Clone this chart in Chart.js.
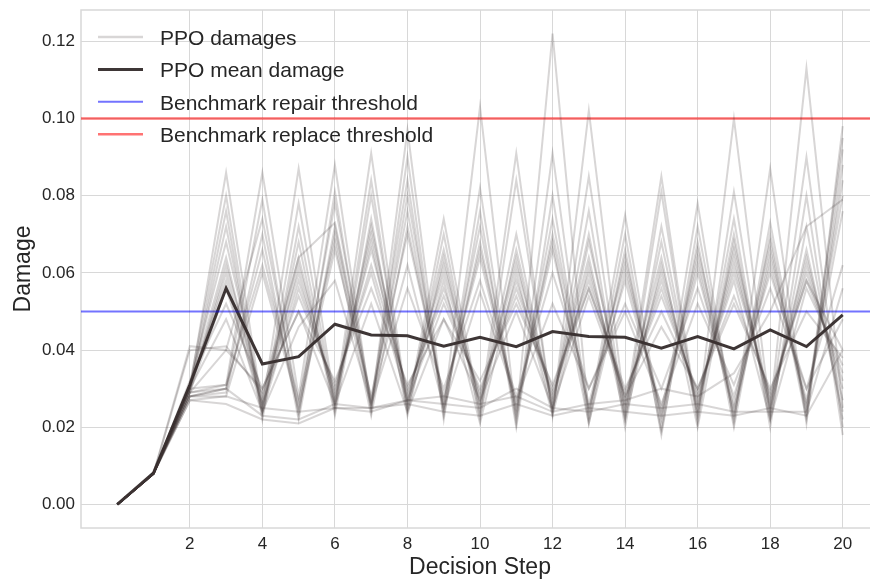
<!DOCTYPE html>
<html>
<head>
<meta charset="utf-8">
<script src="https://cdn.jsdelivr.net/npm/chart.js@4.4.1/dist/chart.umd.min.js"></script>
<style>
  html, body { margin: 0; padding: 0; background: #fff; overflow: hidden; }
  #wrap { position: relative; width: 885px; height: 581px; }
</style>
</head>
<body>
<div id="wrap"><canvas id="damageChart"></canvas></div>
<script>
// decision steps and axis ticks
const steps = [0, 1, 2, 3, 4, 5, 6, 7, 8, 9, 10, 11, 12, 13, 14, 15, 16, 17, 18, 19, 20];
const xTicks = [2, 4, 6, 8, 10, 12, 14, 16, 18, 20];
const yTicks = [0, 0.02, 0.04, 0.06, 0.08, 0.10, 0.12];

// thresholds
const repairThreshold = 0.05;
const replaceThreshold = 0.10;

// mean damage over runs
const meanDamage = [0, 0.0082, 0.031, 0.056, 0.0364, 0.0383, 0.0467, 0.0439, 0.0437, 0.041, 0.0433,
  0.0409, 0.0448, 0.0435, 0.0433, 0.0405, 0.0435, 0.0403, 0.0452, 0.0409, 0.0491];

// individual PPO runs
const run01 = [0, 0.008, 0.030, 0.086, 0.025, 0.087, 0.026, 0.091, 0.025, 0.074, 0.024, 0.091, 0.023, 0.102, 0.024, 0.085, 0.022, 0.100, 0.024, 0.113, 0.025];
const run02 = [0, 0.008, 0.029, 0.031, 0.086, 0.028, 0.088, 0.025, 0.097, 0.024, 0.103, 0.022, 0.122, 0.023, 0.075, 0.020, 0.078, 0.021, 0.087, 0.021, 0.098];
const run03 = [0, 0.008, 0.031, 0.080, 0.023, 0.078, 0.025, 0.084, 0.024, 0.070, 0.022, 0.084, 0.024, 0.085, 0.022, 0.081, 0.021, 0.081, 0.023, 0.090, 0.020];
const run04 = [0, 0.008, 0.028, 0.030, 0.079, 0.023, 0.081, 0.024, 0.090, 0.022, 0.082, 0.021, 0.091, 0.022, 0.070, 0.018, 0.072, 0.022, 0.073, 0.024, 0.095];
const run05 = [0, 0.008, 0.030, 0.076, 0.022, 0.072, 0.024, 0.080, 0.026, 0.066, 0.025, 0.070, 0.025, 0.076, 0.020, 0.072, 0.024, 0.074, 0.020, 0.080, 0.018];
const run06 = [0, 0.008, 0.029, 0.040, 0.074, 0.026, 0.078, 0.027, 0.084, 0.023, 0.076, 0.020, 0.080, 0.021, 0.066, 0.019, 0.068, 0.020, 0.070, 0.023, 0.092];
const run07 = [0, 0.008, 0.030, 0.072, 0.024, 0.068, 0.023, 0.074, 0.023, 0.064, 0.023, 0.066, 0.026, 0.070, 0.023, 0.068, 0.023, 0.070, 0.022, 0.072, 0.022];
const run08 = [0, 0.008, 0.028, 0.029, 0.070, 0.022, 0.072, 0.025, 0.080, 0.026, 0.072, 0.024, 0.074, 0.024, 0.064, 0.022, 0.066, 0.026, 0.068, 0.022, 0.088];
const run09 = [0, 0.008, 0.031, 0.068, 0.027, 0.064, 0.026, 0.072, 0.027, 0.062, 0.027, 0.064, 0.024, 0.068, 0.026, 0.064, 0.020, 0.068, 0.024, 0.066, 0.024];
const run10 = [0, 0.008, 0.029, 0.030, 0.066, 0.024, 0.070, 0.026, 0.076, 0.025, 0.068, 0.023, 0.070, 0.026, 0.062, 0.023, 0.064, 0.024, 0.066, 0.025, 0.084];
const run11 = [0, 0.008, 0.030, 0.064, 0.025, 0.062, 0.028, 0.070, 0.028, 0.060, 0.026, 0.062, 0.027, 0.064, 0.022, 0.062, 0.025, 0.066, 0.026, 0.064, 0.027];
const run12 = [0, 0.008, 0.030, 0.031, 0.062, 0.027, 0.068, 0.023, 0.072, 0.027, 0.066, 0.026, 0.068, 0.021, 0.060, 0.025, 0.062, 0.023, 0.064, 0.027, 0.080];
const run13 = [0, 0.008, 0.029, 0.062, 0.028, 0.060, 0.027, 0.068, 0.025, 0.058, 0.021, 0.060, 0.023, 0.062, 0.025, 0.060, 0.026, 0.064, 0.025, 0.062, 0.030];
const run14 = [0, 0.008, 0.028, 0.028, 0.060, 0.025, 0.066, 0.028, 0.070, 0.028, 0.064, 0.025, 0.066, 0.025, 0.058, 0.024, 0.060, 0.025, 0.062, 0.026, 0.076];
const run15 = [0, 0.008, 0.030, 0.060, 0.026, 0.058, 0.029, 0.066, 0.029, 0.056, 0.028, 0.058, 0.028, 0.060, 0.027, 0.058, 0.027, 0.062, 0.027, 0.060, 0.032];
const run16 = [0, 0.008, 0.031, 0.058, 0.024, 0.056, 0.030, 0.062, 0.030, 0.054, 0.029, 0.056, 0.030, 0.058, 0.028, 0.056, 0.028, 0.060, 0.028, 0.058, 0.034];
const run17 = [0, 0.008, 0.029, 0.056, 0.026, 0.054, 0.031, 0.060, 0.027, 0.052, 0.030, 0.054, 0.029, 0.056, 0.029, 0.054, 0.029, 0.058, 0.022, 0.056, 0.036];
const run18 = [0, 0.008, 0.027, 0.028, 0.025, 0.024, 0.025, 0.024, 0.027, 0.028, 0.026, 0.028, 0.024, 0.026, 0.027, 0.030, 0.028, 0.034, 0.050, 0.072, 0.079];
const run19 = [0, 0.008, 0.040, 0.041, 0.029, 0.064, 0.073, 0.027, 0.062, 0.025, 0.055, 0.027, 0.052, 0.030, 0.050, 0.026, 0.052, 0.031, 0.056, 0.030, 0.048];
const run20 = [0, 0.008, 0.041, 0.040, 0.030, 0.050, 0.026, 0.052, 0.024, 0.048, 0.027, 0.050, 0.025, 0.054, 0.028, 0.046, 0.030, 0.052, 0.030, 0.050, 0.038];
const run21 = [0, 0.008, 0.030, 0.048, 0.024, 0.046, 0.058, 0.026, 0.056, 0.030, 0.058, 0.028, 0.060, 0.030, 0.052, 0.030, 0.056, 0.028, 0.060, 0.030, 0.062];
const run22 = [0, 0.008, 0.027, 0.026, 0.022, 0.021, 0.025, 0.025, 0.026, 0.024, 0.023, 0.026, 0.023, 0.025, 0.024, 0.023, 0.024, 0.023, 0.025, 0.023, 0.040];
const run23 = [0, 0.008, 0.028, 0.030, 0.023, 0.022, 0.026, 0.025, 0.027, 0.026, 0.025, 0.030, 0.025, 0.024, 0.026, 0.025, 0.026, 0.024, 0.024, 0.024, 0.056];
const run24 = [0, 0.008, 0.032, 0.052, 0.030, 0.050, 0.032, 0.056, 0.031, 0.048, 0.032, 0.052, 0.031, 0.056, 0.030, 0.050, 0.030, 0.054, 0.029, 0.058, 0.040];

const runs = [run01, run02, run03, run04, run05, run06, run07, run08, run09, run10, run11, run12,
  run13, run14, run15, run16, run17, run18, run19, run20, run21, run22, run23, run24];

const legendLabels = ['PPO damages', 'PPO mean damage', 'Benchmark repair threshold', 'Benchmark replace threshold'];

const xMin = -1, xMax = 21;
const yMin = -0.0061, yMax = 0.1281;

const runColor = 'rgba(60, 50, 50, 0.2)';
const meanColor = '#3e3636';
const repairColor = 'rgba(0, 0, 255, 0.55)';
const replaceColor = 'rgba(255, 0, 0, 0.55)';
const gridColor = '#d8d8d8';
const textColor = '#262626';
const fontFamily = '"Liberation Sans", Arial, sans-serif';

function toPoints(values) {
    return values.map((v, i) => ({ x: steps[i], y: v }));
}

let datasets = [];
runs.forEach(r => {
    datasets.push({
        data: toPoints(r),
        borderColor: runColor,
        borderWidth: 2,
        pointRadius: 0,
        tension: 0
    });
});
datasets.push({
    data: [{ x: xMin, y: repairThreshold }, { x: xMax, y: repairThreshold }],
    borderColor: repairColor,
    borderWidth: 2,
    pointRadius: 0
});
datasets.push({
    data: [{ x: xMin, y: replaceThreshold }, { x: xMax, y: replaceThreshold }],
    borderColor: replaceColor,
    borderWidth: 2.5,
    pointRadius: 0
});
datasets.push({
    data: toPoints(meanDamage),
    borderColor: meanColor,
    borderWidth: 3,
    pointRadius: 0
});

// frame around the plot + legend in the upper left
const framePlugin = {
    id: 'frame',
    beforeDatasetsDraw(chart) {
        const { ctx, chartArea: a } = chart;
        ctx.save();
        ctx.strokeStyle = gridColor;
        ctx.lineWidth = 1.5;
        ctx.strokeRect(a.left, a.top, a.right - a.left, a.bottom - a.top);
        ctx.restore();
    }
};

const legendPlugin = {
    id: 'cornerLegend',
    afterDatasetsDraw(chart) {
        const ctx = chart.ctx;
        const swatches = [
            { color: 'rgba(60, 50, 50, 0.2)', width: 2.5 },
            { color: meanColor, width: 3 },
            { color: repairColor, width: 2 },
            { color: replaceColor, width: 2.5 }
        ];
        ctx.save();
        ctx.font = '21px ' + fontFamily;
        ctx.fillStyle = textColor;
        ctx.textBaseline = 'alphabetic';
        legendLabels.forEach((label, i) => {
            const y = 37 + i * 32.4;
            ctx.beginPath();
            ctx.strokeStyle = swatches[i].color;
            ctx.lineWidth = swatches[i].width;
            ctx.moveTo(98, y);
            ctx.lineTo(143, y);
            ctx.stroke();
            ctx.fillText(label, 160, y + 8);
        });
        ctx.restore();
    }
};

let ctx = document.getElementById('damageChart').getContext('2d');
let damageChart = new Chart(ctx, {
    type: 'line',
    data: { datasets: datasets },
    options: {
        responsive: true,
        maintainAspectRatio: false,
        animation: false,
        layout: { autoPadding: false, padding: { top: 10, right: 6, bottom: 0, left: 0 } },
        plugins: { legend: { display: false }, tooltip: { enabled: false } },
        scales: {
            x: {
                type: 'linear',
                min: xMin,
                max: xMax,
                afterBuildTicks: s => { s.ticks = xTicks.map(v => ({ value: v })); },
                afterFit: s => { s.height = 53; s.paddingLeft = 0; s.paddingRight = 0; },
                grid: { color: gridColor, drawTicks: false },
                border: { display: false },
                ticks: { padding: 6, color: textColor, font: { size: 17, family: fontFamily } },
                title: { display: true, text: 'Decision Step', color: textColor,
                    font: { size: 23, family: fontFamily }, padding: { top: 0, bottom: 0 } }
            },
            y: {
                type: 'linear',
                min: yMin,
                max: yMax,
                afterBuildTicks: s => { s.ticks = yTicks.map(v => ({ value: v })); },
                afterFit: s => { s.width = 81; s.paddingTop = 0; s.paddingBottom = 0; },
                grid: { color: gridColor, drawTicks: false },
                border: { display: false },
                ticks: { padding: 6, color: textColor, font: { size: 17, family: fontFamily },
                    callback: v => v.toFixed(2) },
                title: { display: true, text: 'Damage', color: textColor,
                    font: { size: 23, family: fontFamily }, padding: { top: 10, bottom: 0 } }
            }
        }
    },
    plugins: [framePlugin, legendPlugin]
});
</script>
</body>
</html>
